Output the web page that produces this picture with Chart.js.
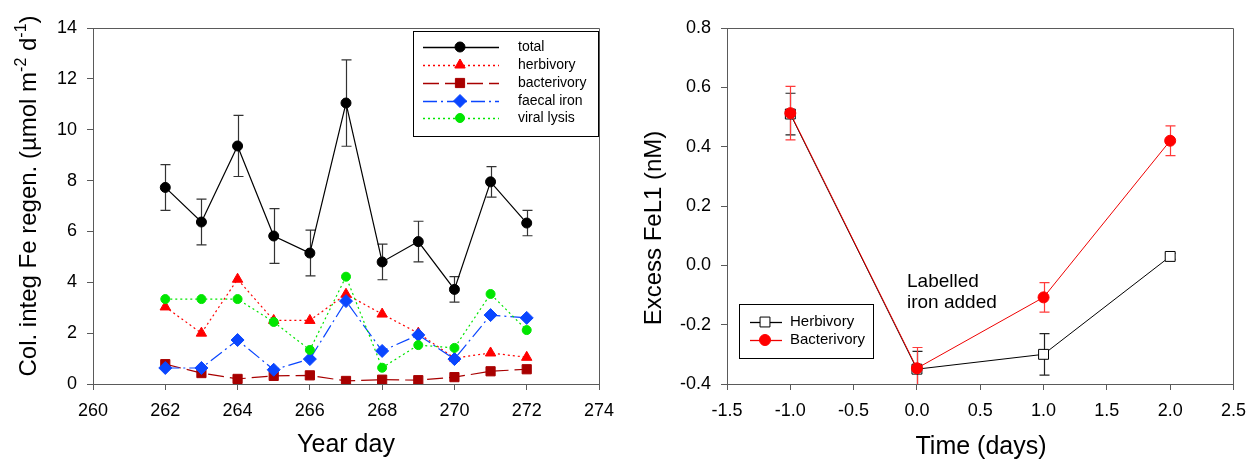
<!DOCTYPE html>
<html>
<head>
<meta charset="utf-8">
<script src="https://cdn.jsdelivr.net/npm/chart.js@4.4.1/dist/chart.umd.min.js"></script>
<style>
html, body { margin: 0; padding: 0; background: #fff; }
#wrap { position: relative; width: 1256px; height: 464px; }
canvas { position: absolute; top: 0; }
</style>
</head>
<body>
<div id="wrap">
  <canvas id="graficoFe" width="628" height="464" style="left:0"></canvas>
  <canvas id="graficoFeL1" width="628" height="464" style="left:628px"></canvas>
</div>
<script>
// ===== dados: painel esquerdo =====
const diasAno = [262, 263, 264, 265, 266, 267, 268, 269, 270, 271, 272];
const total = [7.73, 6.37, 9.36, 5.82, 5.15, 11.05, 4.8, 5.6, 3.72, 7.95, 6.33];
const totalErro = [0.9, 0.9, 1.2, 1.08, 0.9, 1.7, 0.7, 0.8, 0.5, 0.6, 0.5];
const herbivoria = [3.03, 2.0, 4.12, 2.5, 2.5, 3.53, 2.75, 2.0, 1.02, 1.22, 1.05];
const bacterivoria = [0.78, 0.43, 0.2, 0.32, 0.34, 0.12, 0.17, 0.15, 0.27, 0.5, 0.58];
const ferroFecal = [0.63, 0.63, 1.73, 0.56, 0.98, 3.26, 1.3, 1.93, 0.98, 2.71, 2.6];
const liseViral = [3.34, 3.34, 3.34, 2.44, 1.34, 4.22, 0.64, 1.53, 1.42, 3.54, 2.12];
const nomesEsq = ["total", "herbivory", "bacterivory", "faecal iron", "viral lysis"];

// ===== dados: painel direito =====
const tempoDias = [-1, 0, 1, 2];
const herbFeL1 = [0.51, -0.35, -0.30, 0.03];
const herbFeL1Erro = [0.07, 0.06, 0.07, 0.01];
const bactFeL1 = [0.513, -0.347, -0.108, 0.42];
const bactFeL1Erro = [0.09, 0.07, 0.05, 0.05];
const nomesDir = ["Herbivory", "Bacterivory"];

const FONTE = "'Liberation Sans', Arial, sans-serif";
const CINZA = "#5a5a5a";
Chart.defaults.font.family = FONTE;
Chart.defaults.color = "#000";

function pontos(xs, ys) {
    return xs.map((x, i) => ({ x: x, y: ys[i] }));
}

// ===== plugin: moldura, barras de erro, legenda, títulos =====
const extras = {
    id: "extras",
    beforeDatasetsDraw(chart) {
        const ctx = chart.ctx;
        const area = chart.chartArea;
        ctx.save();
        chart.data.datasets.forEach((ds) => {
            if (!ds.erros) return;
            ctx.strokeStyle = ds.corErro;
            ctx.lineWidth = 1.2;
            ds.data.forEach((p, i) => {
                const e = ds.erros[i];
                const x = Math.round(chart.scales.x.getPixelForValue(p.x)) + 0.5;
                let y1 = chart.scales.y.getPixelForValue(p.y + e);
                let y2 = chart.scales.y.getPixelForValue(p.y - e);
                const capTopo = y1 >= area.top;
                const capBase = y2 <= area.bottom;
                y1 = Math.max(y1, area.top);
                y2 = Math.min(y2, area.bottom);
                ctx.beginPath();
                ctx.moveTo(x, y1); ctx.lineTo(x, y2);
                if (capTopo) { ctx.moveTo(x - 5, y1); ctx.lineTo(x + 5, y1); }
                if (capBase) { ctx.moveTo(x - 5, y2); ctx.lineTo(x + 5, y2); }
                ctx.stroke();
            });
        });
        ctx.restore();
    },
    afterDraw(chart, args, opts) {
        const ctx = chart.ctx;
        const a = chart.chartArea;
        ctx.save();

        // moldura (topo e direita)
        ctx.strokeStyle = CINZA;
        ctx.lineWidth = 1;
        ctx.beginPath();
        ctx.moveTo(a.left, Math.round(a.top) + 0.5);
        ctx.lineTo(Math.round(a.right) + 0.5, Math.round(a.top) + 0.5);
        ctx.lineTo(Math.round(a.right) + 0.5, a.bottom);
        ctx.stroke();

        // legenda
        const L = opts.legenda;
        ctx.fillStyle = "#fff";
        ctx.fillRect(L.x1, L.y1, L.x2 - L.x1, L.y2 - L.y1);
        ctx.strokeStyle = "#000";
        ctx.strokeRect(L.x1 + 0.5, L.y1 + 0.5, L.x2 - L.x1, L.y2 - L.y1);
        L.nomes.forEach((nome, i) => {
            const ds = chart.data.datasets[L.indices[i]];
            const y = L.linhas[i];
            ctx.save();
            ctx.strokeStyle = ds.borderColor;
            ctx.lineWidth = ds.borderWidth + 0.3;
            ctx.setLineDash(ds.borderDash || []);
            ctx.beginPath();
            ctx.moveTo(L.linhaX1, y + 0.5);
            ctx.lineTo(L.linhaX2, y + 0.5);
            ctx.stroke();
            ctx.setLineDash([]);
            ctx.fillStyle = ds.pointBackgroundColor;
            ctx.strokeStyle = ds.pointBorderColor;
            ctx.lineWidth = ds.pointBorderWidth;
            Chart.helpers.drawPoint(ctx, {
                pointStyle: ds.pointStyle, radius: ds.pointRadius,
                rotation: 0, borderWidth: ds.pointBorderWidth
            }, L.marcaX, y);
            ctx.restore();
            ctx.fillStyle = "#000";
            ctx.font = L.fonte + "px " + FONTE;
            ctx.textBaseline = "middle";
            ctx.textAlign = "left";
            ctx.fillText(nome, L.textoX, y);
        });

        // título eixo x
        ctx.fillStyle = "#000";
        ctx.font = "25px " + FONTE;
        ctx.textAlign = "center";
        ctx.textBaseline = "middle";
        ctx.fillText(opts.tituloX.texto, opts.tituloX.x, opts.tituloX.y);

        // título eixo y (com sobrescritos)
        const T = opts.tituloY;
        ctx.save();
        ctx.translate(T.x, T.y);
        ctx.rotate(-Math.PI / 2);
        ctx.textBaseline = "alphabetic";
        ctx.textAlign = "left";
        let largura = 0;
        T.partes.forEach((p) => {
            ctx.font = (p.sup ? 16 : 24) + "px " + FONTE;
            largura += ctx.measureText(p.t).width;
        });
        let u = -largura / 2;
        T.partes.forEach((p) => {
            ctx.font = (p.sup ? 16 : 24) + "px " + FONTE;
            ctx.fillText(p.t, u, p.sup ? -10 : 0);
            u += ctx.measureText(p.t).width;
        });
        ctx.restore();

        // anotação
        if (opts.nota) {
            ctx.font = "19px " + FONTE;
            ctx.textAlign = "left";
            ctx.textBaseline = "middle";
            opts.nota.linhas.forEach((t, i) => {
                ctx.fillText(t, opts.nota.x, opts.nota.y + i * 21);
            });
        }
        ctx.restore();
    }
};

function eixo(min, max, passo, casas, largura, altura) {
    return {
        type: "linear",
        min: min,
        max: max,
        ticks: {
            stepSize: passo,
            font: { size: 18 },
            color: "#000",
            padding: 10,
            callback: (v) => v.toFixed(casas)
        },
        grid: { drawOnChartArea: false, tickLength: 6, color: CINZA, tickColor: CINZA },
        border: { display: true, color: CINZA, width: 1 },
        afterFit: (s) => {
            if (largura) s.width = largura;
            if (altura) s.height = altura;
        }
    };
}

// ============================
// GRÁFICO ESQUERDO
// ============================
const corLinhaEsq = ["#000000", "#ff0000", "#a80000", "#0a46ff", "#00e600"];
new Chart(document.getElementById("graficoFe"), {
    type: "line",
    data: {
        datasets: [
            {
                label: nomesEsq[0], data: pontos(diasAno, total), erros: totalErro, corErro: "#333",
                borderColor: corLinhaEsq[0], borderWidth: 1.2, pointStyle: "circle", pointRadius: 5,
                pointBackgroundColor: "#000", pointBorderColor: "#000", pointBorderWidth: 1, order: 5
            },
            {
                label: nomesEsq[1], data: pontos(diasAno, herbivoria),
                borderColor: corLinhaEsq[1], borderWidth: 1.2, borderDash: [2, 3], pointStyle: "triangle", pointRadius: 6,
                pointBackgroundColor: "#ff0000", pointBorderColor: "#ff0000", pointBorderWidth: 1, order: 4
            },
            {
                label: nomesEsq[2], data: pontos(diasAno, bacterivoria),
                borderColor: corLinhaEsq[2], borderWidth: 1.2, borderDash: [16, 6], pointStyle: "rect", pointRadius: 6.5,
                pointBackgroundColor: "#a80000", pointBorderColor: "#a80000", pointBorderWidth: 1, order: 3
            },
            {
                label: nomesEsq[3], data: pontos(diasAno, ferroFecal),
                borderColor: corLinhaEsq[3], borderWidth: 1.2, borderDash: [14, 4, 2, 4], pointStyle: "rectRot", pointRadius: 6.5,
                pointBackgroundColor: "#0a46ff", pointBorderColor: "#0a46ff", pointBorderWidth: 1, order: 2
            },
            {
                label: nomesEsq[4], data: pontos(diasAno, liseViral),
                borderColor: corLinhaEsq[4], borderWidth: 1.2, borderDash: [2, 3], pointStyle: "circle", pointRadius: 4.5,
                pointBackgroundColor: "#00e600", pointBorderColor: "#00e600", pointBorderWidth: 1, order: 1
            }
        ]
    },
    options: {
        responsive: false,
        animation: false,
        devicePixelRatio: 1,
        layout: { padding: { left: 0, top: 28, right: 29, bottom: 0 } },
        plugins: {
            legend: { display: false },
            tooltip: { enabled: false },
            extras: {
                legenda: {
                    x1: 413, y1: 31, x2: 598, y2: 136, nomes: nomesEsq, indices: [0, 1, 2, 3, 4],
                    linhas: [47, 65, 83, 101, 118], linhaX1: 423, linhaX2: 499, marcaX: 460, textoX: 518, fonte: 14
                },
                tituloX: { texto: "Year day", x: 346, y: 445 },
                tituloY: {
                    x: 36, y: 196,
                    partes: [
                        { t: "Col. integ Fe regen. (µmol m" }, { t: "-2", sup: true },
                        { t: " d" }, { t: "-1", sup: true }, { t: ")" }
                    ]
                }
            }
        },
        scales: {
            x: eixo(260, 274, 2, 0, 0, 80),
            y: eixo(0, 14, 2, 0, 93, 0)
        }
    },
    plugins: [extras]
});

// ============================
// GRÁFICO DIREITO
// ============================
new Chart(document.getElementById("graficoFeL1"), {
    type: "line",
    data: {
        datasets: [
            {
                label: nomesDir[0], data: pontos(tempoDias, herbFeL1), erros: herbFeL1Erro, corErro: "#222",
                borderColor: "#000", borderWidth: 1, pointStyle: "rect", pointRadius: 7,
                pointBackgroundColor: "#fff", pointBorderColor: "#000", pointBorderWidth: 1, order: 2
            },
            {
                label: nomesDir[1], data: pontos(tempoDias, bactFeL1), erros: bactFeL1Erro, corErro: "#ff3b3b",
                borderColor: "#ee0000", borderWidth: 1, pointStyle: "circle", pointRadius: 5.5,
                pointBackgroundColor: "#ff0000", pointBorderColor: "#ff0000", pointBorderWidth: 1, order: 1
            }
        ]
    },
    options: {
        responsive: false,
        animation: false,
        devicePixelRatio: 1,
        layout: { padding: { left: 0, top: 28, right: 21, bottom: 0 } },
        plugins: {
            legend: { display: false },
            tooltip: { enabled: false },
            extras: {
                legenda: {
                    x1: 111, y1: 304, x2: 245, y2: 358, nomes: nomesDir, indices: [0, 1],
                    linhas: [322, 340], linhaX1: 122, linhaX2: 154, marcaX: 137, textoX: 162, fonte: 15
                },
                tituloX: { texto: "Time (days)", x: 353, y: 447 },
                tituloY: { x: 33, y: 228, partes: [{ t: "Excess FeL1 (nM)" }] },
                nota: { linhas: ["Labelled", "iron added"], x: 279, y: 282 }
            }
        },
        scales: {
            x: eixo(-1.5, 2.5, 0.5, 1, 0, 80),
            y: eixo(-0.4, 0.8, 0.2, 1, 99, 0)
        }
    },
    plugins: [extras]
});
</script>
</body>
</html>
